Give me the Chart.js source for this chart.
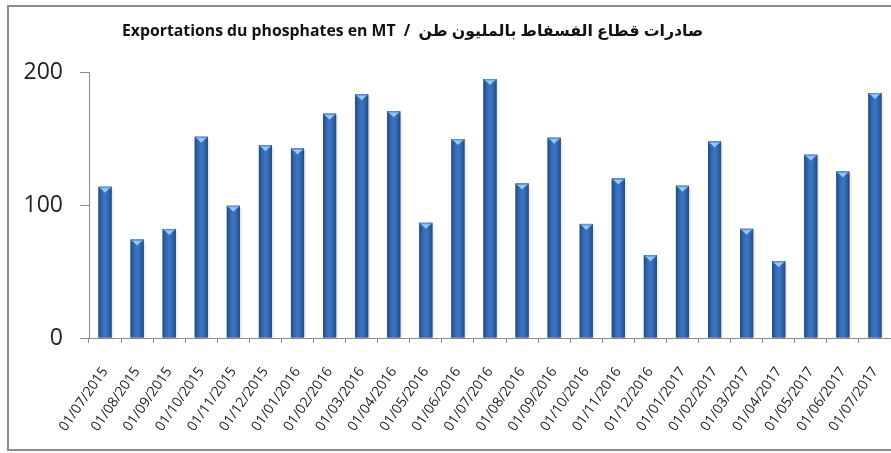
<!DOCTYPE html>
<html>
<head>
<meta charset="utf-8">
<script src="https://cdn.jsdelivr.net/npm/chart.js@4.4.1/dist/chart.umd.min.js"></script>
<style>
  html, body { margin: 0; padding: 0; background: #fff; overflow: hidden; }
  #wrap { position: relative; width: 891px; height: 453px; }
  #frame { position: absolute; left: 7px; top: 5px; width: 900px; height: 446px; border: 2px solid #8a8a8a; box-sizing: border-box; pointer-events: none; }
  #title { position: absolute; left: 122px; top: 19px; font: bold 15.8px 'Open Sans', 'DejaVu Sans', sans-serif; color: #111; white-space: nowrap; }
  canvas { position: absolute; left: 0; top: 0; }
</style>
</head>
<body>
<div id="wrap">
  <canvas id="exportChart" width="891" height="453"></canvas>
  <div id="frame"></div>
  <div id="title">Exportations du phosphates en MT&nbsp; / &nbsp;صادرات قطاع الفسفاط بالمليون طن</div>
</div>
<script>
// monthly phosphate exports
const months = ['01/07/2015', '01/08/2015', '01/09/2015', '01/10/2015', '01/11/2015', '01/12/2015',
  '01/01/2016', '01/02/2016', '01/03/2016', '01/04/2016', '01/05/2016', '01/06/2016',
  '01/07/2016', '01/08/2016', '01/09/2016', '01/10/2016', '01/11/2016', '01/12/2016',
  '01/01/2017', '01/02/2017', '01/03/2017', '01/04/2017', '01/05/2017', '01/06/2017', '01/07/2017'];
const exportsMT = [113.7, 74, 82, 151.3, 99.4, 145, 142.5, 168.7, 183.2, 170.4, 86.6, 149.6,
  194.7, 116.2, 150.6, 85.8, 120, 62.2, 114.5, 147.8, 82.1, 57.7, 137.8, 125.2, 184.2];
const yTicks = [0, 100, 200];

// bevelled look of the bars, drawn over the library's own bar elements
const barLook = {
  id: 'barLook',
  afterDatasetsDraw(chart) {
    const ctx = chart.ctx;
    const meta = chart.getDatasetMeta(0);
    meta.data.forEach(bar => {
      const { x, y, base, width } = bar.getProps(['x', 'y', 'base', 'width'], true);
      const l = x - width / 2, r = x + width / 2;
      ctx.save();
      // soft shadow
      ctx.fillStyle = 'rgba(0,0,0,0.08)';
      ctx.fillRect(r, y + 2, 2, base - y - 2);
      const g = ctx.createLinearGradient(l, 0, r, 0);
      g.addColorStop(0, '#21497f');
      g.addColorStop(0.25, '#3367ad');
      g.addColorStop(0.5, '#3b76c6');
      g.addColorStop(0.75, '#3367ad');
      g.addColorStop(1, '#21497f');
      ctx.fillStyle = g;
      ctx.fillRect(l, y, width, base - y);
      // top cap
      ctx.fillStyle = '#5d98de';
      ctx.fillRect(l + 1, y, width - 2, 2);
      ctx.fillStyle = '#9cc8f6';
      ctx.beginPath();
      ctx.moveTo(l + 2, y + 1.5);
      ctx.lineTo(r - 2, y + 1.5);
      ctx.lineTo(x, y + 6);
      ctx.closePath();
      ctx.fill();
      ctx.restore();
    });
  }
};

const ctx = document.getElementById('exportChart').getContext('2d');
new Chart(ctx, {
  type: 'bar',
  data: {
    labels: months,
    datasets: [{
      data: exportsMT,
      backgroundColor: '#3367ad',
      categoryPercentage: 1,
      barPercentage: 0.41
    }]
  },
  options: {
    responsive: false,
    animation: false,
    layout: { padding: { top: 72, left: 0, right: 0, bottom: 0 } },
    plugins: {
      legend: { display: false },
      tooltip: { enabled: false },
      title: { display: false }
    },
    scales: {
      x: {
        grid: { drawOnChartArea: false, offset: true, tickLength: 5, color: '#8a8a8a' },
        border: { color: '#8a8a8a' },
        ticks: {
          minRotation: 55,
          maxRotation: 55,
          autoSkip: false,
          padding: 21,
          color: '#222',
          font: { family: "'Open Sans'", size: 14 }
        },
        afterFit(scale) {
          scale.height = 115;
          scale.paddingLeft = 0;
          scale.paddingRight = 0;
        }
      },
      y: {
        min: 0,
        max: 200,
        afterBuildTicks(scale) { scale.ticks = yTicks.map(v => ({ value: v })); },
        grid: { drawOnChartArea: false, tickLength: 9, color: '#8a8a8a' },
        border: { color: '#8a8a8a' },
        ticks: {
          padding: 17,
          color: '#222',
          font: { family: "'Open Sans'", size: 23 }
        },
        afterFit(scale) { scale.width = 89; }
      }
    }
  },
  plugins: [barLook]
});
</script>
</body>
</html>
